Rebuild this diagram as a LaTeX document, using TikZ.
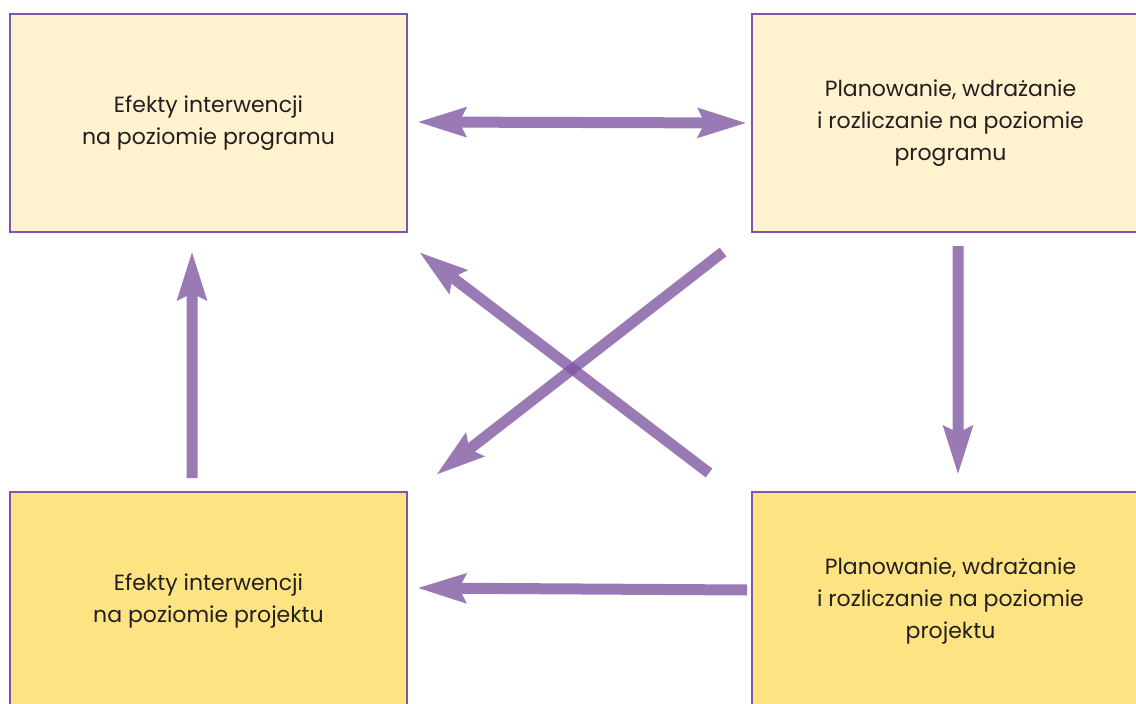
\documentclass[tikz,border=0pt]{standalone}
\usepackage{fontspec}
\setmainfont{Poppins}
\usetikzlibrary{arrows.meta}
\definecolor{boxline}{HTML}{7E57A6}
\definecolor{paleyellow}{HTML}{FFF2CF}
\definecolor{deepyellow}{HTML}{FEE383}
\definecolor{arrowpurple}{HTML}{7E55A0}
\definecolor{inktext}{HTML}{231F20}
\tikzset{
  stagebox/.style={draw=boxline, line width=2.5pt, minimum width=397pt, minimum height=218pt,
    inner sep=0pt, align=center, text=inktext, font=\fontsize{22}{32}\selectfont},
  flow/.style={draw=arrowpurple, line width=11pt,
    -{Stealth[length=48pt,width=28pt,inset=6pt]}},
  biflow/.style={flow, {Stealth[length=48pt,width=28pt,inset=6pt]}-{Stealth[length=48pt,width=28pt,inset=6pt]}},
  seethrough/.style={transparency group, opacity=0.78}
}
\begin{document}
\begin{tikzpicture}[x=1pt,y=-1pt]
\useasboundingbox (0,0) rectangle (1136,704);
\clip (0,0) rectangle (1136,704);
\fill[white] (0,0) rectangle (1136,704);

\node[stagebox, fill=paleyellow] (epr) at (208.5,123) {Efekty interwencji\\na poziomie programu};
\node[stagebox, fill=paleyellow] (ppr) at (950.5,123) {Planowanie, wdrażanie\\i rozliczanie na poziomie\\programu};
\node[stagebox, fill=deepyellow] (epj) at (208.5,601) {Efekty interwencji\\na poziomie projektu};
\node[stagebox, fill=deepyellow] (ppj) at (950.5,601) {Planowanie, wdrażanie\\i rozliczanie na poziomie\\projektu};

% arrow end points in the gaps between the boxes
\coordinate (h1a) at (417,122);
\coordinate (h1b) at (747,123);
\coordinate (v1a) at (958,246);
\coordinate (v1b) at (958,475);
\coordinate (v2a) at (192,478);
\coordinate (v2b) at (192,251);
\coordinate (h2a) at (747,590);
\coordinate (h2b) at (417,588);
\coordinate (d1a) at (709,473);
\coordinate (d1b) at (419,252);
\coordinate (d2a) at (723,252);
\coordinate (d2b) at (436,475);

\begin{scope}[seethrough]\draw[biflow] (h1a) -- (h1b);\end{scope}
\begin{scope}[seethrough]\draw[flow] (v1a) -- (v1b);\end{scope}
\begin{scope}[seethrough]\draw[flow] (v2a) -- (v2b);\end{scope}
\begin{scope}[seethrough]\draw[flow] (h2a) -- (h2b);\end{scope}
\begin{scope}[seethrough]\draw[flow] (d1a) -- (d1b);\end{scope}
\begin{scope}[seethrough]\draw[flow] (d2a) -- (d2b);\end{scope}
\end{tikzpicture}
\end{document}
